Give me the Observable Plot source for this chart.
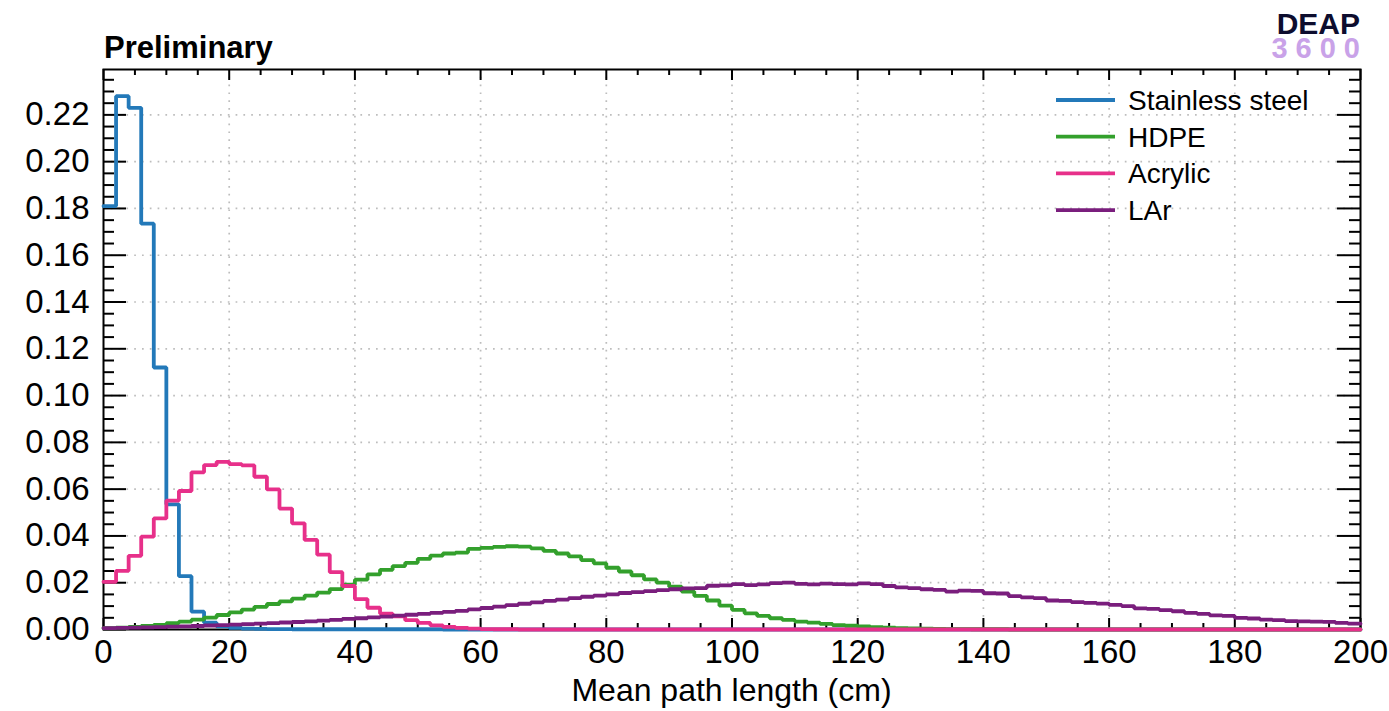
<!DOCTYPE html>
<html>
<head>
<meta charset="utf-8">
<script src="https://cdn.jsdelivr.net/npm/d3@7"></script>
<script src="https://cdn.jsdelivr.net/npm/@observablehq/plot@0.6"></script>
<style>
  html, body { margin: 0; padding: 0; background: #fff; }
  #chart svg { display: block; }
</style>
</head>
<body>
<div id="chart"></div>
<script>
// Normalised mean path length distributions, 2 cm bins from 0 to 200 cm.
const binWidth = 2;
const xDomain = [0, 200];
const yDomain = [0, 0.2394];

const steel = [
  0.181, 0.228, 0.223, 0.1735, 0.112, 0.0535, 0.0228, 0.0076, 0.0029, 0.0013,
  0.0007, 0.0004, 0.0003, 0.0002, 0.0002, 0.0001, 0.0001, 0.0001, 0.0001, 0.0001,
  0.0001, 0.0001, 0.0001, 0.0001, 0.0001, 0.0001, 0.0001, 0, 0, 0,
  0, 0, 0, 0, 0, 0, 0, 0, 0, 0,
  0, 0, 0, 0, 0, 0, 0, 0, 0, 0,
  0, 0, 0, 0, 0, 0, 0, 0, 0, 0,
  0, 0, 0, 0, 0, 0, 0, 0, 0, 0,
  0, 0, 0, 0, 0, 0, 0, 0, 0, 0,
  0, 0, 0, 0, 0, 0, 0, 0, 0, 0,
  0, 0, 0, 0, 0, 0, 0, 0, 0, 0
];

const hdpe = [
  0.0006, 0.0008, 0.0011, 0.0015, 0.0020, 0.0027, 0.0034, 0.0042, 0.0051, 0.0062,
  0.0073, 0.0085, 0.0097, 0.0109, 0.0120, 0.0132, 0.0145, 0.0158, 0.0173, 0.0192,
  0.0213, 0.0236, 0.0255, 0.0271, 0.0285, 0.0302, 0.0316, 0.0325, 0.0329, 0.0345,
  0.0349, 0.0353, 0.0356, 0.0354, 0.0347, 0.0336, 0.0325, 0.0313, 0.0297, 0.0283,
  0.0264, 0.0248, 0.0232, 0.0214, 0.0200, 0.0183, 0.0162, 0.0144, 0.0124, 0.0102,
  0.0084, 0.0069, 0.0058, 0.0048, 0.0041, 0.0034, 0.0029, 0.0024, 0.0019, 0.0016,
  0.0013, 0.0010, 0.0008, 0.0006, 0.0005, 0.0004, 0.0003, 0.0002, 0.0002, 0.0001,
  0.0001, 0.0001, 0, 0, 0, 0, 0, 0, 0, 0,
  0, 0, 0, 0, 0, 0, 0, 0, 0, 0,
  0, 0, 0, 0, 0, 0, 0, 0, 0, 0
];

const acrylic = [
  0.0204, 0.0251, 0.0315, 0.0397, 0.0475, 0.0551, 0.0592, 0.0672, 0.0703, 0.0717,
  0.0707, 0.0702, 0.0653, 0.0599, 0.0517, 0.0454, 0.0383, 0.0320, 0.0245, 0.0186,
  0.0130, 0.0093, 0.0068, 0.0056, 0.0040, 0.0028, 0.0018, 0.0011, 0.0007, 0.0004,
  0.0002, 0.0001, 0.0001, 0, 0, 0, 0, 0, 0, 0,
  0, 0, 0, 0, 0, 0, 0, 0, 0, 0,
  0, 0, 0, 0, 0, 0, 0, 0, 0, 0,
  0, 0, 0, 0, 0, 0, 0, 0, 0, 0,
  0, 0, 0, 0, 0, 0, 0, 0, 0, 0,
  0, 0, 0, 0, 0, 0, 0, 0, 0, 0,
  0, 0, 0, 0, 0, 0, 0, 0, 0, 0
];

const lar = [
  0.0006, 0.0007, 0.0008, 0.0009, 0.0010, 0.0012, 0.0013, 0.0015, 0.0017, 0.0019,
  0.0021, 0.0023, 0.0025, 0.0027, 0.0030, 0.0032, 0.0035, 0.0038, 0.0041, 0.0045,
  0.0048, 0.0052, 0.0055, 0.0059, 0.0063, 0.0067, 0.0071, 0.0075, 0.0080, 0.0086,
  0.0092, 0.0098, 0.0104, 0.0110, 0.0116, 0.0122, 0.0128, 0.0134, 0.0140, 0.0145,
  0.0150, 0.0156, 0.0160, 0.0164, 0.0168, 0.0172, 0.0176, 0.0177, 0.0187, 0.0189,
  0.0194, 0.0190, 0.0193, 0.0198, 0.0200, 0.0195, 0.0193, 0.0196, 0.0194, 0.0193,
  0.0197, 0.0194, 0.0186, 0.0180, 0.0177, 0.0172, 0.0169, 0.0162, 0.0166, 0.0165,
  0.0155, 0.0154, 0.0143, 0.0137, 0.0134, 0.0124, 0.0122, 0.0117, 0.0114, 0.0111,
  0.0105, 0.0100, 0.0090, 0.0088, 0.0083, 0.0078, 0.0071, 0.0067, 0.0060, 0.0058,
  0.0050, 0.0047, 0.0042, 0.0040, 0.0036, 0.0035, 0.0034, 0.0033, 0.0028, 0.0025
];

const seriesNames = ["Stainless steel", "HDPE", "Acrylic", "LAr"];
const seriesColors = ["#2379b9", "#33a02c", "#e7308a", "#7a1e7d"];
const seriesValues = [steel, hdpe, acrylic, lar];

const xMajor = d3.range(0, 201, 20);
const xMinor = d3.range(0, 201, 5).filter(v => v % 20 !== 0);
const yMajor = d3.range(0, 0.2301, 0.02).map(v => +v.toFixed(2));
const yMinor = d3.range(0, 0.2394, 0.005).map(v => +v.toFixed(3)).filter(v => Math.round(v * 1000) % 20 !== 0);

// Step outline: one vertex at each bin's left edge plus the closing right edge.
const rows = seriesNames.flatMap((name, k) => {
  const vals = seriesValues[k];
  return [
    ...vals.map((v, i) => ({name, x: i * binWidth, y: v})),
    {name, x: vals.length * binWidth, y: vals[vals.length - 1]}
  ];
});

const W = 1389, H = 711;
const mL = 103, mR = 29, mT = 69, mB = 82;
const innerW = W - mL - mR, innerH = H - mT - mB;
const font = "'Liberation Sans', Arial, Helvetica, sans-serif";

const chart = Plot.plot({
  width: W,
  height: H,
  marginLeft: mL,
  marginRight: mR,
  marginTop: mT,
  marginBottom: mB,
  style: {fontFamily: font, fontSize: "28px", color: "#000", background: "#fff"},
  x: {domain: xDomain},
  y: {domain: yDomain},
  color: {domain: seriesNames, range: seriesColors},
  marks: [
    // dotted grid at major ticks
    Plot.ruleX(xMajor.slice(1, -1), {stroke: "#bdbdbd", strokeWidth: 1.7, strokeDasharray: "1.7,6.1"}),
    Plot.ruleY(yMajor.slice(1), {stroke: "#bdbdbd", strokeWidth: 1.7, strokeDasharray: "1.7,6.1"}),
    // inward ticks on all four sides
    Plot.ruleX(xMajor, {insetTop: innerH - 11, stroke: "#000", strokeWidth: 2}),
    Plot.ruleX(xMinor, {insetTop: innerH - 6, stroke: "#000", strokeWidth: 2}),
    Plot.ruleX(xMajor, {insetBottom: innerH - 11, stroke: "#000", strokeWidth: 2}),
    Plot.ruleX(xMinor, {insetBottom: innerH - 6, stroke: "#000", strokeWidth: 2}),
    Plot.ruleY(yMajor, {insetRight: innerW - 23, stroke: "#000", strokeWidth: 2}),
    Plot.ruleY(yMinor, {insetRight: innerW - 11, stroke: "#000", strokeWidth: 2}),
    Plot.ruleY(yMajor, {insetLeft: innerW - 23, stroke: "#000", strokeWidth: 2}),
    Plot.ruleY(yMinor, {insetLeft: innerW - 11, stroke: "#000", strokeWidth: 2}),
    Plot.frame({stroke: "#000", strokeWidth: 2}),
    Plot.axisX({ticks: xMajor, tickSize: 0, tickPadding: 10, tickFormat: d3.format("d"), label: null, fontSize: 33}),
    Plot.axisY({ticks: yMajor, tickSize: 0, tickPadding: 14, tickFormat: d3.format(".2f"), label: null, fontSize: 33}),
    // histograms
    Plot.line(rows, {x: "x", y: "y", z: "name", stroke: "name", curve: "step-after", strokeWidth: 3.8, strokeLinejoin: "miter"})
  ]
});

document.getElementById("chart").appendChild(chart);

const svg = d3.select(chart);

// legend
const legend = svg.append("g")
  .attr("font-family", font).attr("font-size", 28).attr("text-anchor", "start");
seriesNames.forEach((name, i) => {
  const cy = 100 + i * 36.7;
  legend.append("line")
    .attr("x1", 1056).attr("x2", 1115).attr("y1", cy).attr("y2", cy)
    .attr("stroke", seriesColors[i]).attr("stroke-width", 3.8);
  legend.append("text")
    .attr("x", 1128).attr("y", cy + 10)
    .attr("fill", "#000")
    .text(name);
});

// axis title
svg.append("text")
  .attr("x", mL + innerW / 2).attr("y", 701)
  .attr("text-anchor", "middle")
  .attr("font-family", font).attr("font-size", 32)
  .attr("fill", "#000")
  .text("Mean path length (cm)");

// status label
svg.append("text")
  .attr("x", 104).attr("y", 58)
  .attr("text-anchor", "start")
  .attr("font-family", font).attr("font-size", 31).attr("font-weight", "bold")
  .attr("fill", "#000")
  .text("Preliminary");

// collaboration mark
svg.append("text")
  .attr("x", 1360).attr("y", 34)
  .attr("text-anchor", "end")
  .attr("font-family", font).attr("font-size", 30).attr("font-weight", "bold")
  .attr("fill", "#0d0d2e")
  .text("DEAP");
svg.append("text")
  .attr("x", 1368).attr("y", 58)
  .attr("text-anchor", "end")
  .attr("font-family", font).attr("font-size", 29).attr("font-weight", "bold")
  .attr("letter-spacing", 8)
  .attr("fill", "#c9a2e8")
  .text("3600");
</script>
</body>
</html>
